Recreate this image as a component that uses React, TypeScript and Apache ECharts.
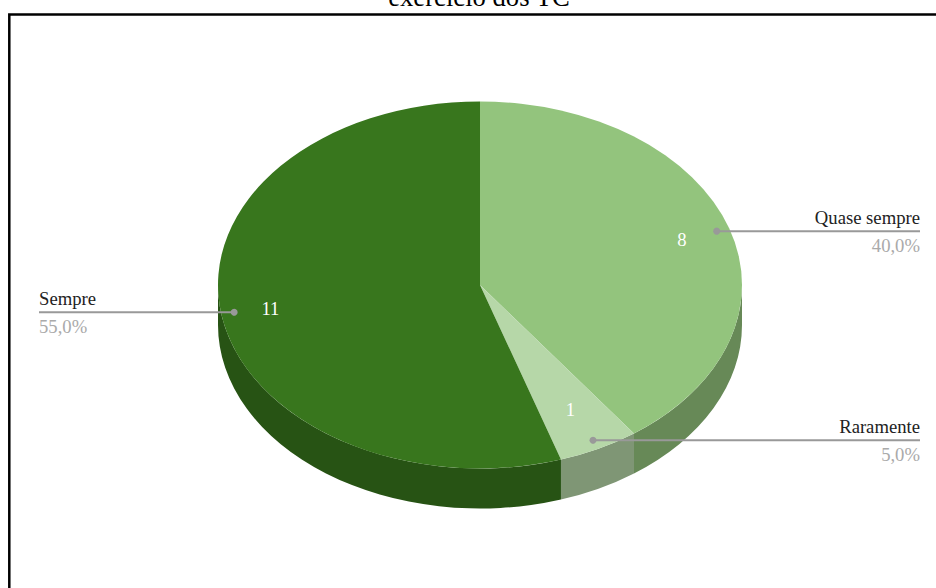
import React, { useEffect, useRef } from "react";
import * as echarts from "echarts";

const titleText = "exercício dos TC";
const categories = ["Quase sempre", "Raramente", "Sempre"];
const counts = [8, 1, 11];
const percentLabels = ["40,0%", "5,0%", "55,0%"];
const topColors = ["#93c47d", "#b6d7a8", "#38761d"];
const sideColors = ["#678957", "#7f9675", "#275314"];

const FONT = '"Liberation Serif", "Times New Roman", serif';
const CX = 480;
const CY = 285;
const RX = 262;
const RY = 183.5;
const DEPTH = 40;
const DOT_K = 0.95;
const VALUE_K = [0.81, 0.76, 0.81];
const RIGHT_X = 920;
const LEFT_X = 39;

const total = counts.reduce((a, b) => a + b, 0);
const slices = counts.map((v, i) => {
  const before = counts.slice(0, i).reduce((a, b) => a + b, 0);
  return { start: (before / total) * 360, end: ((before + v) / total) * 360 };
});
const px = (deg: number, k = 1) => CX + RX * k * Math.sin((deg * Math.PI) / 180);
const py = (deg: number, k = 1) => CY - RY * k * Math.cos((deg * Math.PI) / 180);

const topPath = (a: number, b: number) =>
  `M${CX} ${CY}L${px(a)} ${py(a)}A${RX} ${RY} 0 ${b - a > 180 ? 1 : 0} 1 ${px(b)} ${py(b)}Z`;

const sidePath = (a0: number, b0: number) => {
  const a = Math.max(a0, 90);
  const b = Math.min(b0, 270);
  if (b <= a) return "";
  return (
    `M${px(a)} ${py(a)}A${RX} ${RY} 0 0 1 ${px(b)} ${py(b)}` +
    `L${px(b)} ${py(b) + DEPTH}A${RX} ${RY} 0 0 0 ${px(a)} ${py(a) + DEPTH}Z`
  );
};

const seriesData = counts.map((v, i) => ({ name: categories[i], value: v }));

export default function App() {
  const ref = useRef<HTMLDivElement>(null);
  useEffect(() => {
    document.body.style.margin = "0";
    const chart = echarts.init(ref.current!, null, { renderer: "svg" });
    chart.setOption({
      animation: false,
      backgroundColor: "#ffffff",
      graphic: [
        {
          type: "rect",
          z: 0,
          shape: { x: 9.3, y: 14.5, width: 1000, height: 1000 },
          style: { fill: "none", stroke: "#000000", lineWidth: 2.5 },
        },
        {
          type: "text",
          z: 10,
          x: 479,
          y: 10.5,
          style: {
            text: titleText,
            font: `26.67px ${FONT}`,
            fill: "#000000",
            textAlign: "center",
            textVerticalAlign: "bottom",
          },
        },
      ],
      series: [
        {
          type: "custom",
          coordinateSystem: "none",
          z: 2,
          silent: true,
          data: seriesData,
          renderItem: (p: any) => {
            const s = slices[p.dataIndex];
            const d = sidePath(s.start, s.end);
            if (!d) return { type: "group", children: [] };
            return { type: "path", shape: { pathData: d }, style: { fill: sideColors[p.dataIndex] } };
          },
        },
        {
          type: "custom",
          coordinateSystem: "none",
          z: 3,
          silent: true,
          data: seriesData,
          renderItem: (p: any) => {
            const s = slices[p.dataIndex];
            return { type: "path", shape: { pathData: topPath(s.start, s.end) }, style: { fill: topColors[p.dataIndex] } };
          },
        },
        {
          type: "custom",
          coordinateSystem: "none",
          z: 4,
          silent: true,
          data: seriesData,
          renderItem: (p: any) => {
            const i = p.dataIndex;
            const s = slices[i];
            const mid = (s.start + s.end) / 2;
            const dx = px(mid, DOT_K);
            const dy = py(mid, DOT_K);
            const right = mid < 180;
            const edge = right ? RIGHT_X : LEFT_X;
            const align = right ? "right" : "left";
            return {
              type: "group",
              children: [
                {
                  type: "text",
                  style: {
                    x: px(mid, VALUE_K[i]),
                    y: py(mid, VALUE_K[i]),
                    text: String(counts[i]),
                    font: `18.67px ${FONT}`,
                    fill: "#ffffff",
                    textAlign: "center",
                    textVerticalAlign: "middle",
                  },
                },
                {
                  type: "line",
                  shape: { x1: dx, y1: dy, x2: edge, y2: dy },
                  style: { stroke: "#999999", lineWidth: 2 },
                },
                { type: "circle", shape: { cx: dx, cy: dy, r: 3.5 }, style: { fill: "#999999" } },
                {
                  type: "text",
                  style: {
                    x: edge,
                    y: dy - 4,
                    text: categories[i],
                    font: `18.67px ${FONT}`,
                    fill: "#222222",
                    textAlign: align,
                    textVerticalAlign: "bottom",
                  },
                },
                {
                  type: "text",
                  style: {
                    x: edge,
                    y: dy + 5,
                    text: percentLabels[i],
                    font: `18.67px ${FONT}`,
                    fill: "#aaaaaa",
                    textAlign: align,
                    textVerticalAlign: "top",
                  },
                },
              ],
            };
          },
        },
      ],
    });
    return () => chart.dispose();
  }, []);
  return <div ref={ref} style={{ width: 936, height: 588 }} />;
}
